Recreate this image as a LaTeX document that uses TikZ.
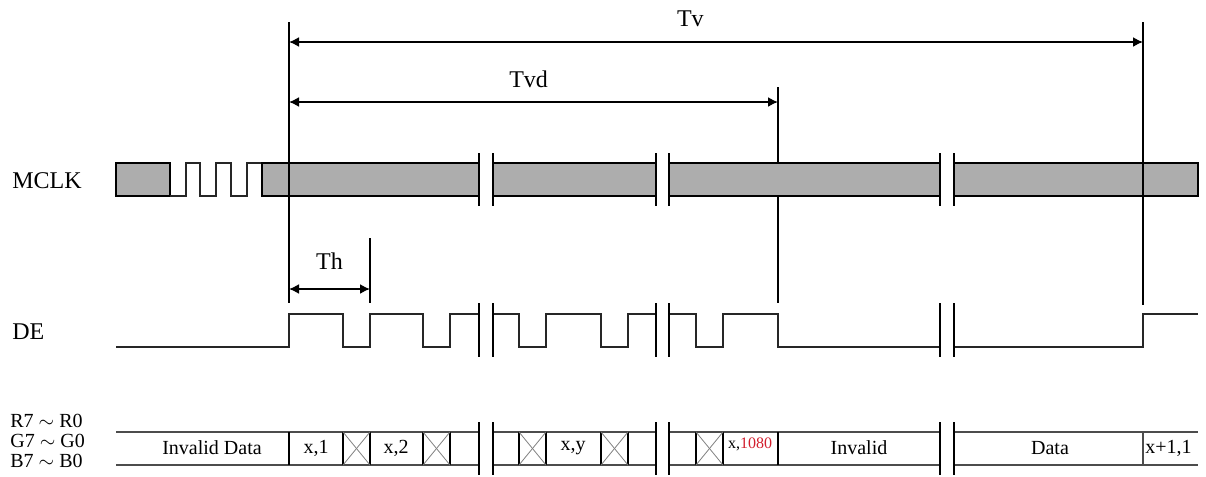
\documentclass[tikz,border=0pt]{standalone}
\usepackage{fontspec}
\setmainfont{Liberation Serif}
\usetikzlibrary{arrows,arrows.meta,calc,positioning}
\tikzset{%
	wave/.style     = {line width=0.8pt, black!85},
	clkbox/.style   = {draw, line width=0.8pt, fill=black!32},
	brk/.style      = {line width=1.2pt},
	marker/.style   = {line width=0.7pt},
	dim/.style      = {line width=0.8pt, {Latex[length=5pt,width=5pt]}-{Latex[length=5pt,width=5pt]}},
	bus/.style      = {line width=0.8pt, black!70},
	cell/.style     = {line width=0.8pt},
	xcell/.style    = {draw=black!50, line width=0.4pt},
	sig/.style      = {font=\fontsize{12}{14}\selectfont, anchor=west, inner sep=0pt},
	dat/.style      = {font=\fontsize{10}{12}\selectfont, inner sep=0pt},
	dimlbl/.style   = {font=\fontsize{12}{14}\selectfont},
}
\definecolor{numred}{RGB}{210,30,45}

\begin{document}
\begin{tikzpicture}[x=0.5pt,y=-0.5pt]
	\useasboundingbox (0,0) rectangle (1206,477);

	% signal names
	\node [sig] (mclk) at (12,181) {MCLK};
	\node [sig] (de) at (12,332) {DE};
	\node [dat,anchor=west] (rlbl) at (10,421) {R7 $\sim$ R0};
	\node [dat,anchor=west] (glbl) at (10,441) {G7 $\sim$ G0};
	\node [dat,anchor=west] (blbl) at (10,461) {B7 $\sim$ B0};

	% marker lines
	\coordinate (vstart) at (289,22);
	\coordinate (vstartb) at (289,303);
	\coordinate (vtvd) at (778,87);
	\coordinate (vtvdb) at (778,303);
	\coordinate (vtv) at (1143,22);
	\coordinate (vtvb) at (1143,305);
	\coordinate (vth) at (370,238);
	\coordinate (vthb) at (370,303);
	\draw [marker] (vtvd) -- (vtvdb);

	% MCLK
	\draw [clkbox] (116,163) rectangle (170,196);
	\draw [wave] (170,196) -- (186,196) -- (186,163) -- (200,163) -- (200,196) -- (216,196)
		-- (216,163) -- (231,163) -- (231,196) -- (247,196) -- (247,163) -- (262,163);
	\foreach \xa/\xb in {262/479,493/656,669/940,954/1198}
		\draw [clkbox] (\xa,163) rectangle (\xb,196);

	\draw [marker] (vstart) -- (vstartb);
	\draw [marker] (vtv) -- (vtvb);
	\draw [marker] (vth) -- (vthb);

	% DE
	\draw [wave] (116,347) -- (289,347) -- (289,314) -- (343,314) -- (343,347) -- (370,347) -- (370,314)
		-- (423,314) -- (423,347) -- (450,347) -- (450,314) -- (479,314);
	\draw [wave] (493,314) -- (519,314) -- (519,347) -- (546,347) -- (546,314) -- (601,314)
		-- (601,347) -- (628,347) -- (628,314) -- (656,314);
	\draw [wave] (669,314) -- (696,314) -- (696,347) -- (723,347) -- (723,314) -- (778,314)
		-- (778,347) -- (940,347);
	\draw [wave] (954,347) -- (1143,347) -- (1143,314) -- (1198,314);

	% data bus
	\foreach \xa/\xb in {116/479,493/656,669/940,954/1198} {
		\draw [bus] (\xa,432) -- (\xb,432);
		\draw [bus] (\xa,465) -- (\xb,465);
	}
	\foreach \xc in {289,343,370,423,450,519,546,601,628,696,723,778}
		\draw [cell] (\xc,432) -- (\xc,465);
	\draw [cell,black!70] (1143,432) -- (1143,465);
	\foreach \xa/\xb in {343/370,423/450,519/546,601/628,696/723} {
		\draw [xcell] (\xa,432) -- (\xb,465);
		\draw [xcell] (\xa,465) -- (\xb,432);
	}

	\node [dat] (inv1) at (212,448) {Invalid Data};
	\node [dat] (x1) at (316,448) {x,1};
	\node [dat] (x2) at (396,448) {x,2};
	\node [dat] (xy) at (573,448) {x,y};
	\node [dat,font=\fontsize{8}{10}\selectfont] (xlast) at (750,444) {x,\textcolor{numred}{1080}};
	\node [dat] (inv2) at (859,448) {Invalid};
	\node [dat] (data) at (1050,448) {Data};
	\node [dat,anchor=west] (xnext) at (1145,448) {x+1,1};

	% breaks
	\foreach \bx in {479,493,656,669,940,954}
		\foreach \ya/\yb in {153/206,303/357,422/475}
			\draw [brk] (\bx,\ya) -- (\bx,\yb);

	% timing arrows
	\coordinate (tvl) at (289,42);
	\coordinate (tvr) at (1143,42);
	\coordinate (tvdl) at (289,102);
	\coordinate (tvdr) at (778,102);
	\coordinate (thl) at (289,289);
	\coordinate (thr) at (370,289);
	\draw [dim] (tvl) -- node [dimlbl,pos=0.47,above=4pt] (tvlbl) {Tv} (tvr);
	\draw [dim] (tvdl) -- node [dimlbl,pos=0.49,above=3.5pt] (tvdlbl) {Tvd} (tvdr);
	\draw [dim] (thl) -- node [dimlbl,above=6pt] (thlbl) {Th} (thr);
\end{tikzpicture}
\end{document}
